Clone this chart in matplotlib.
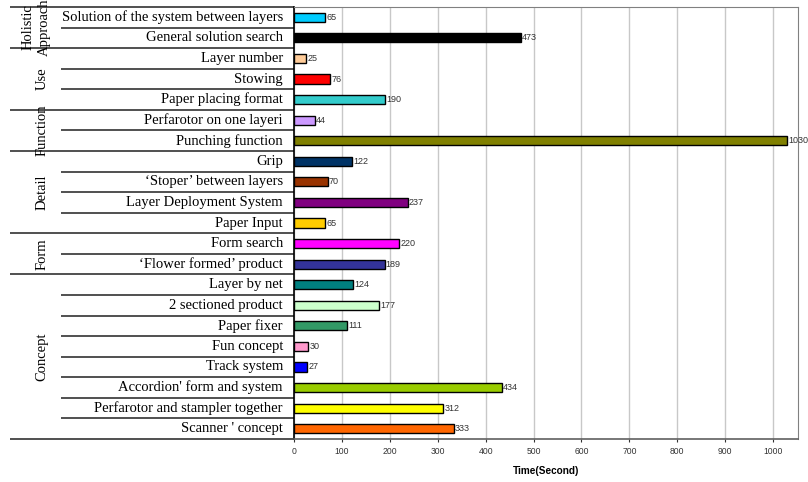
import numpy as np
import matplotlib.pyplot as plt
import matplotlib.transforms as mtrans

# rows from top to bottom
labels = ["Solution of the system between layers", "General solution search",
          "Layer number", "Stowing", "Paper placing format",
          "Perfarotor on one layeri", "Punching function",
          "Grip", "\u2018Stoper\u2019 between layers", "Layer Deployment System", "Paper Input",
          "Form search", "\u2018Flower formed\u2019 product",
          "Layer by net", "2 sectioned product", "Paper fixer", "Fun concept", "Track system",
          "Accordion' form and system", "Perfarotor and stampler together", "Scanner ' concept"]
values = [65, 473, 25, 76, 190, 44, 1030, 122, 70, 237, 65, 220, 189,
          124, 177, 111, 30, 27, 434, 312, 333]
colors = ["#00CCFF", "#000000", "#FFCC99", "#FF0000", "#33CCCC", "#CC99FF", "#808000",
          "#003366", "#993300", "#800080", "#FFCC00", "#FF00FF", "#333399",
          "#008080", "#CCFFCC", "#339966", "#FF99CC", "#0000FF", "#99CC00", "#FFFF00", "#FF6600"]
groups = ["Holistic\nApproach", "Use", "Function", "Detail", "Form", "Concept"]
group_sizes = [2, 3, 2, 4, 2, 8]
xticks = [0, 100, 200, 300, 400, 500, 600, 700, 800, 900, 1000]

W, H = 808, 482
fig = plt.figure(figsize=(W / 100, H / 100), dpi=100)
left, right, top, bottom = 294, 798, 7, 439
ax = fig.add_axes([left / W, 1 - bottom / H, (right - left) / W, (bottom - top) / H])

n = len(values)
y = np.arange(n)
ax.barh(y, values, height=0.45, color=colors, edgecolor="black", linewidth=1, zorder=3)
for yi, v in zip(y, values):
    ax.text(v + 2.5, yi, str(v), va="center", ha="left", fontsize=6.5,
            family="Liberation Sans", color="#333333", zorder=4)

ax.set_xlim(0, 1052)
ax.set_ylim(n - 0.5, -0.5)
ax.set_yticks([])
ax.set_xticks(xticks)
ax.tick_params(axis="x", labelsize=6.2, length=2, pad=4, colors="#333333")
for lab in ax.get_xticklabels():
    lab.set_family("Liberation Sans")
ax.grid(axis="x", color="#c8c8c8", linewidth=1, zorder=0)
ax.set_xlabel("Time(Second)", fontsize=7.2, fontweight="bold", family="Liberation Sans", labelpad=7)
for s in ["top", "right"]:
    ax.spines[s].set_color("#808080")
ax.spines["bottom"].set_color("#606060")
ax.spines["bottom"].set_linewidth(1.2)
ax.spines["left"].set_color("black")
ax.spines["left"].set_linewidth(1.2)

# left table: x in axes fraction, y in data
tr = mtrans.blended_transform_factory(ax.transAxes, ax.transData)
def fx(px):
    return (px - left) / (right - left)

for yi, lab in zip(y, labels):
    ax.text(fx(283), yi, lab, transform=tr, ha="right", va="center",
            fontsize=10.5, family="Liberation Serif", clip_on=False)

# row lines and group lines
bounds = np.cumsum([0] + group_sizes)
for k in range(n + 1):
    x0 = fx(10) if k in bounds else fx(61)
    ax.plot([x0, 0], [k - 0.5, k - 0.5], transform=tr, color="#202020",
            linewidth=1.1, clip_on=False, solid_capstyle="butt")

for g, a, b in zip(groups, bounds[:-1], bounds[1:]):
    mid = (a + b - 1) / 2
    ax.text(fx(36) if "\n" in g else fx(42), mid, g, transform=tr, rotation=90,
            ha="center", va="center", fontsize=10.5, family="Liberation Serif",
            linespacing=1.3, clip_on=False)

fig.savefig("out.png", dpi=100)
